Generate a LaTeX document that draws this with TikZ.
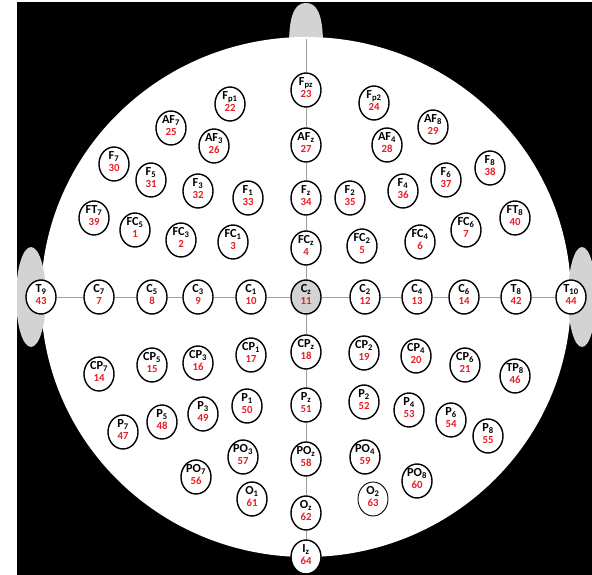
\documentclass[tikz,border=0pt]{standalone}
\usepackage{fontspec}
\setmainfont{Carlito}
\usetikzlibrary{shapes.geometric}
\definecolor{elnum}{RGB}{232,30,37}
\definecolor{headgray}{RGB}{211,211,211}
\newcommand{\elnr}[1]{{\color{elnum}\fontsize{10.8}{12.4}\selectfont#1\rule[-4.7pt]{0pt}{0pt}}}

\begin{document}
\begin{tikzpicture}[x=1pt,y=-1pt,
  el/.style={ellipse,draw,line width=1.4pt,fill=white,minimum width=30pt,minimum height=34pt,
    inner xsep=0pt,inner ysep=-1pt,align=center,font=\fontsize{12.3}{12.4}\selectfont\bfseries},
  midline/.style={draw=gray!75,line width=0.9pt}]
  \useasboundingbox (0,0) rectangle (592,575);
  \fill[black] (17,2) rectangle (592,575);
  % head, nose and ears
  \begin{scope}
    \clip (17,2) rectangle (592,575);
    \fill[headgray] (289,45) .. controls (289,12) and (296,3) .. (306,3)
      .. controls (316,3) and (323,12) .. (323,45) -- cycle;
    \fill[white] (306,297) ellipse [x radius=265, y radius=260];
    \fill[headgray] (31,297) ellipse [x radius=15, y radius=50];
    \fill[headgray] (582,297) ellipse [x radius=14, y radius=50];
  \end{scope}
  \coordinate (nose) at (306,39);

  % frontal
  \node[el] (fpz) at (306,90) {F\textsubscript{pz}\\\elnr{23}};
  \node[el] (fp1) at (230,104) {F\textsubscript{p1}\\\elnr{22}};
  \node[el] (fp2) at (374,103) {F\textsubscript{p2}\\\elnr{24}};
  \node[el] (af7) at (171,128) {AF\textsubscript{7}\\\elnr{25}};
  \node[el] (af3) at (214,146) {AF\textsubscript{3}\\\elnr{26}};
  \node[el] (afz) at (306,145) {AF\textsubscript{z}\\\elnr{27}};
  \node[el] (af4) at (387,145) {AF\textsubscript{4}\\\elnr{28}};
  \node[el] (af8) at (433,127) {AF\textsubscript{8}\\\elnr{29}};
  \node[el] (f7) at (114,164) {F\textsubscript{7}\\\elnr{30}};
  \node[el] (f5) at (151,180) {F\textsubscript{5}\\\elnr{31}};
  \node[el] (f3) at (198,191) {F\textsubscript{3}\\\elnr{32}};
  \node[el] (f1) at (248,198) {F\textsubscript{1}\\\elnr{33}};
  \node[el] (fz) at (306,198) {F\textsubscript{z}\\\elnr{34}};
  \node[el] (f2) at (350,198) {F\textsubscript{2}\\\elnr{35}};
  \node[el] (f4) at (403,191) {F\textsubscript{4}\\\elnr{36}};
  \node[el] (f6) at (446,180) {F\textsubscript{6}\\\elnr{37}};
  \node[el] (f8) at (490,168) {F\textsubscript{8}\\\elnr{38}};
  \node[el] (ft7) at (94,218) {FT\textsubscript{7}\\\elnr{39}};
  \node[el] (ft8) at (515,218) {FT\textsubscript{8}\\\elnr{40}};
  \node[el] (fc5) at (135,230) {FC\textsubscript{5}\\\elnr{1}};
  \node[el] (fc3) at (181,240) {FC\textsubscript{3}\\\elnr{2}};
  \node[el] (fc1) at (233,242) {FC\textsubscript{1}\\\elnr{3}};
  \node[el] (fcz) at (306,248) {FC\textsubscript{z}\\\elnr{4}};
  \node[el] (fc2) at (362,246) {FC\textsubscript{2}\\\elnr{5}};
  \node[el] (fc4) at (420,242) {FC\textsubscript{4}\\\elnr{6}};
  \node[el] (fc6) at (466,230) {FC\textsubscript{6}\\\elnr{7}};

  % central
  \node[el] (t9) at (41,297) {T\textsubscript{9}\\\elnr{43}};
  \node[el] (c7) at (99,297) {C\textsubscript{7}\\\elnr{7}};
  \node[el] (c5) at (152,297) {C\textsubscript{5}\\\elnr{8}};
  \node[el] (c3) at (198,297) {C\textsubscript{3}\\\elnr{9}};
  \node[el] (c1) at (251,297) {C\textsubscript{1}\\\elnr{10}};
  \node[el,fill=headgray] (cz) at (306,297) {C\textsubscript{z}\\\elnr{11}};
  \node[el] (c2) at (365,297) {C\textsubscript{2}\\\elnr{12}};
  \node[el] (c4) at (417,297) {C\textsubscript{4}\\\elnr{13}};
  \node[el] (c6) at (464,297) {C\textsubscript{6}\\\elnr{14}};
  \node[el] (t8) at (516,297) {T\textsubscript{8}\\\elnr{42}};
  \node[el] (t10) at (571,297) {T\textsubscript{10}\\\elnr{44}};

  % parietal and occipital
  \node[el] (cp7) at (99,374) {CP\textsubscript{7}\\\elnr{14}};
  \node[el] (cp5) at (152,365) {CP\textsubscript{5}\\\elnr{15}};
  \node[el] (cp3) at (198,363) {CP\textsubscript{3}\\\elnr{16}};
  \node[el] (cp1) at (251,355) {CP\textsubscript{1}\\\elnr{17}};
  \node[el] (cpz) at (306,352) {CP\textsubscript{z}\\\elnr{18}};
  \node[el] (cp2) at (364,353) {CP\textsubscript{2}\\\elnr{19}};
  \node[el] (cp4) at (416,356) {CP\textsubscript{4}\\\elnr{20}};
  \node[el] (cp6) at (465,365) {CP\textsubscript{6}\\\elnr{21}};
  \node[el] (tp8) at (515,376) {TP\textsubscript{8}\\\elnr{46}};
  \node[el] (p7) at (123,432) {P\textsubscript{7}\\\elnr{47}};
  \node[el] (p5) at (162,422) {P\textsubscript{5}\\\elnr{48}};
  \node[el] (p3) at (203,414) {P\textsubscript{3}\\\elnr{49}};
  \node[el] (p1) at (247,406) {P\textsubscript{1}\\\elnr{50}};
  \node[el] (pz) at (306,405) {P\textsubscript{z}\\\elnr{51}};
  \node[el] (p2) at (364,402) {P\textsubscript{2}\\\elnr{52}};
  \node[el] (p4) at (409,410) {P\textsubscript{4}\\\elnr{53}};
  \node[el] (p6) at (451,420) {P\textsubscript{6}\\\elnr{54}};
  \node[el] (p8) at (488,436) {P\textsubscript{8}\\\elnr{55}};
  \node[el] (po7) at (196,477) {PO\textsubscript{7}\\\elnr{56}};
  \node[el] (po3) at (243,457) {PO\textsubscript{3}\\\elnr{57}};
  \node[el] (poz) at (306,459) {PO\textsubscript{z}\\\elnr{58}};
  \node[el] (po4) at (365,457) {PO\textsubscript{4}\\\elnr{59}};
  \node[el] (po8) at (417,481) {PO\textsubscript{8}\\\elnr{60}};
  \node[el] (o1) at (252,499) {O\textsubscript{1}\\\elnr{61}};
  \node[el] (oz) at (306,513) {O\textsubscript{z}\\\elnr{62}};
  \node[el,line width=0.9pt] (o2) at (373,499) {O\textsubscript{2}\\\elnr{63}};
  \node[el] (iz) at (306,557) {I\textsubscript{z}\\\elnr{64}};

  % midlines
  \draw[midline] (nose) -- (fpz) -- (afz) -- (fz) -- (fcz) -- (cz) -- (cpz) -- (pz) -- (poz) -- (oz) -- (iz);
  \draw[midline] (t9) -- (c7) -- (c5) -- (c3) -- (c1) -- (cz) -- (c2) -- (c4) -- (c6) -- (t8) -- (t10);
\end{tikzpicture}
\end{document}
